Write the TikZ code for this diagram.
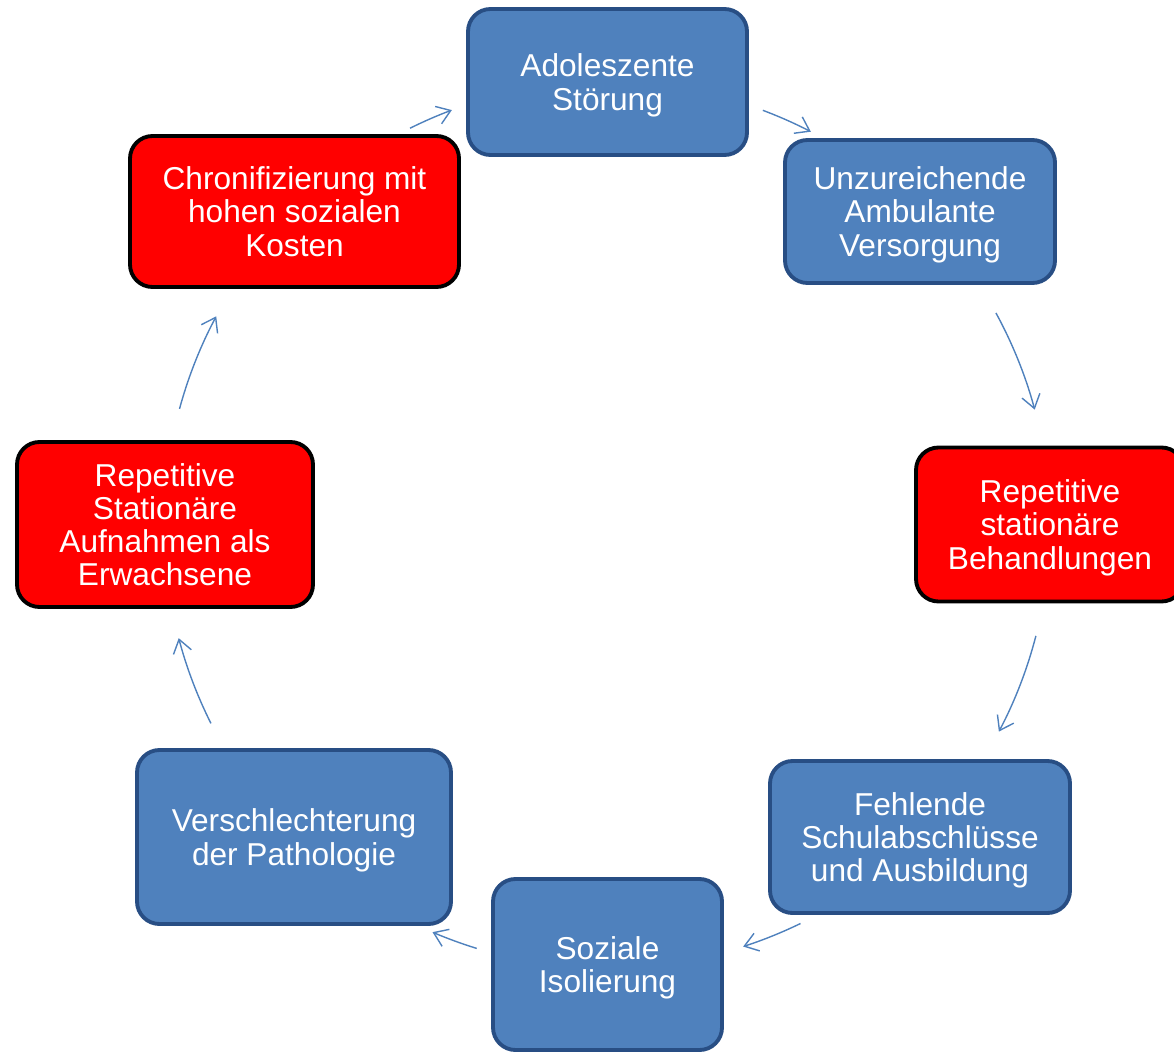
\documentclass[tikz,border=0pt]{standalone}
\usepackage{fontspec}
\setmainfont{Liberation Sans}
\usetikzlibrary{
    arrows.meta,
    calc
}
\definecolor{boxblue}{RGB}{79,129,189}
\definecolor{boxblueline}{RGB}{40,78,132}
\definecolor{arrowblue}{RGB}{79,129,189}
\newcommand{\ringr}{8.86}
\tikzset {
    stage/.style = {
        rectangle, rounded corners = 0.45cm, line width = 2.2pt,
        align = center, text = white, inner sep = 2pt, text depth = 0pt,
        font = \fontsize{18}{18.9}\selectfont
    },
    blue box/.style = {stage, fill = boxblue, draw = boxblueline},
    red box/.style = {stage, fill = red, draw = black},
    cycle arrow/.style = {
        draw = arrowblue, line width = 0.8pt,
        arrows = {-Straight Barb[length = 7.5pt, width = 10.5pt]}
    }
}

\begin{document}
\begin{tikzpicture}
    \useasboundingbox (0, 0) rectangle (23.48, 21.06);
    \coordinate (ring) at (12.14, 10.56);
    % stages
    \node (adol) [blue box, minimum width = 5.58cm, minimum height = 2.92cm]
        at (12.15, 19.42) {Adoleszente\\Störung};
    \node (unz) [blue box, minimum width = 5.40cm, minimum height = 2.86cm]
        at (18.40, 16.83) {Unzureichende\\Ambulante\\Versorgung};
    \node (repst) [red box, minimum width = 5.36cm, minimum height = 3.08cm]
        at (21.00, 10.57) {Repetitive\\stationäre\\Behandlungen};
    \node (fehl) [blue box, minimum width = 6.00cm, minimum height = 3.04cm]
        at (18.40, 4.32) {Fehlende\\Schulabschlüsse\\und Ausbildung};
    \node (soz) [blue box, minimum width = 4.58cm, minimum height = 3.42cm]
        at (12.15, 1.77) {Soziale\\Isolierung};
    \node (versch) [blue box, minimum width = 6.28cm, minimum height = 3.48cm]
        at (5.88, 4.32) {Verschlechterung\\der Pathologie};
    \node (repa) [red box, minimum width = 5.92cm, minimum height = 3.30cm]
        at (3.30, 10.57) {Repetitive\\Stationäre\\Aufnahmen als\\Erwachsene};
    \node (chron) [red box, minimum width = 6.58cm, minimum height = 3.02cm]
        at (5.89, 16.83) {Chronifizierung mit\\hohen sozialen\\Kosten};
    % arrows on the ring
    \draw [cycle arrow] ([shift = {(116.4:\ringr)}]ring)
        arc [start angle = 116.4, end angle = 110.5, radius = \ringr];
    \draw [cycle arrow] ([shift = {(69.4:\ringr)}]ring)
        arc [start angle = 69.4, end angle = 62.6, radius = \ringr];
    \draw [cycle arrow] ([shift = {(28.6:\ringr)}]ring)
        arc [start angle = 28.6, end angle = 15.1, radius = \ringr];
    \draw [cycle arrow] ([shift = {(-14.5:\ringr)}]ring)
        arc [start angle = -14.5, end angle = -27.8, radius = \ringr];
    \draw [cycle arrow] ([shift = {(-64.1:\ringr)}]ring)
        arc [start angle = -64.1, end angle = -72.1, radius = \ringr];
    \draw [cycle arrow] ([shift = {(-107.1:\ringr)}]ring)
        arc [start angle = -107.1, end angle = -113.2, radius = \ringr];
    \draw [cycle arrow] ([shift = {(-153.4:\ringr)}]ring)
        arc [start angle = -153.4, end angle = -165.2, radius = \ringr];
    \draw [cycle arrow] ([shift = {(164.8:\ringr)}]ring)
        arc [start angle = 164.8, end angle = 151.9, radius = \ringr];
\end{tikzpicture}
\end{document}
